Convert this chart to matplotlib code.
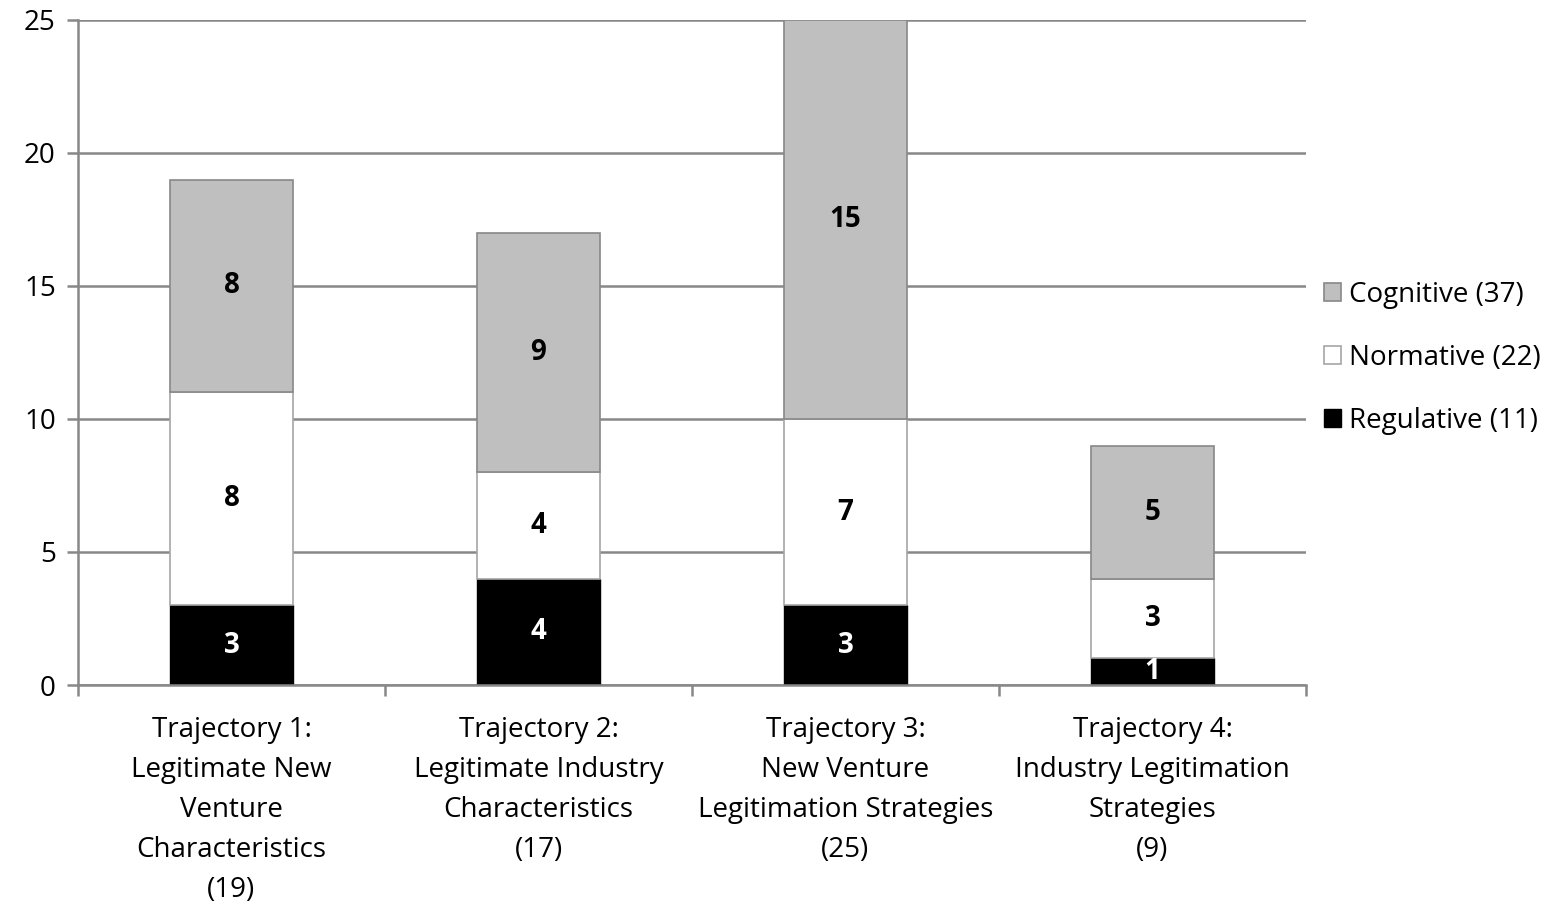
import matplotlib.pyplot as plt
import numpy as np

categories = ['Trajectory 1:\nLegitimate New\nVenture\nCharacteristics\n(19)',
              'Trajectory 2:\nLegitimate Industry\nCharacteristics\n(17)',
              'Trajectory 3:\nNew Venture\nLegitimation Strategies\n(25)',
              'Trajectory 4:\nIndustry Legitimation\nStrategies\n(9)']
regulative = [3, 4, 3, 1]
normative = [8, 4, 7, 3]
cognitive = [8, 9, 15, 5]
series_names = ['Regulative (11)', 'Normative (22)', 'Cognitive (37)']

plt.rcParams['font.family'] = ['Open Sans', 'DejaVu Sans']

fig = plt.figure(figsize=(15.56, 9.02), dpi=100)
ax = fig.add_axes([78 / 1556, 1 - 685 / 902, (1306 - 78) / 1556, 665 / 902])

x = np.arange(len(categories))
w = 0.4
grid_c = '#888888'
fs = 20

b1 = ax.bar(x, regulative, w, color='black', edgecolor='black', linewidth=1, label=series_names[0])
b2 = ax.bar(x, normative, w, bottom=regulative, color='white', edgecolor='#A6A6A6',
            linewidth=1.2, label=series_names[1])
bottom3 = np.array(regulative) + np.array(normative)
b3 = ax.bar(x, cognitive, w, bottom=bottom3, color='#BFBFBF', edgecolor='#888888',
            linewidth=1.2, label=series_names[2])

for bars, col in [(b1, 'white'), (b2, 'black'), (b3, 'black')]:
    ax.bar_label(bars, label_type='center', color=col, fontsize=fs, fontweight='bold')

ax.set_xlim(-0.5, 3.5)
ax.set_ylim(0, 25)
ax.set_yticks([0, 5, 10, 15, 20, 25])
ax.set_axisbelow(True)
ax.yaxis.grid(True, color=grid_c, linewidth=1.8)

ax.set_xticks(x)
ax.set_xticklabels(categories, fontsize=fs, linespacing=1.58)
ax.set_xticks(np.arange(-0.5, 4, 1), minor=True)
ax.tick_params(axis='x', which='major', length=0, pad=22)
ax.tick_params(axis='x', which='minor', length=8, width=1.8, color=grid_c, direction='out')
ax.tick_params(axis='y', length=8, width=1.8, color=grid_c, labelsize=fs, pad=8)

for s in ['top', 'right']:
    ax.spines[s].set_visible(False)
for s in ['left', 'bottom']:
    ax.spines[s].set_color(grid_c)
    ax.spines[s].set_linewidth(1.8)

handles = [b3, b2, b1]
leg = ax.legend(handles, [series_names[2], series_names[1], series_names[0]],
                loc='center left', bbox_to_anchor=(0.994, 0.492), frameon=False,
                fontsize=fs, handlelength=0.62, handleheight=0.62, handletextpad=0.3,
                labelspacing=1.26)

fig.savefig('out.png', dpi=100)
